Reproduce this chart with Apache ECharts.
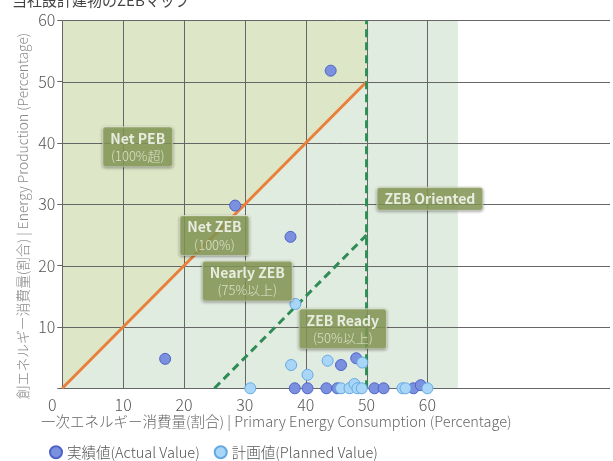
<!DOCTYPE html>
<html><head><meta charset="utf-8">
<script src="https://cdn.jsdelivr.net/npm/echarts@6/dist/echarts.min.js"></script>
<style>html,body{margin:0;padding:0;background:#fff}#c{width:613px;height:461px}</style>
</head><body><div id="c"></div>
<script>
// ---- data ----
const actualValues = [
  [16.9,4.8],[44.1,51.8],[28.4,29.8],[37.5,24.7],[45.8,3.8],[48.3,4.9],
  [38.2,0],[40.3,0],[43.4,0],[45.2,0],[51.3,0],[52.8,0],[57.7,0],[58.9,0.5]
];
const plannedValues = [
  [38.3,13.75],[37.6,3.8],[43.6,4.5],[49.3,4.2],[40.3,2.2],[30.9,0],
  [45.8,0],[47.2,0],[48.0,0.7],[48.5,0],[49.2,0],[55.9,0],[56.4,0],[60.0,0]
];
const seriesNames = ['実績値(Actual Value)','計画値(Planned Value)'];
const xTicks = [0,10,20,30,40,50,60];
const yTicks = [0,10,20,30,40,50,60];
const netZebLine = [[0,0],[50,50]];
const zebReadyLine = [[50,0],[50,60]];
const nearlyZebLine = [[25,0],[50,25]];
const zoneRegion = [[0,0],[65,0],[65,60],[0,60]];
const pebRegion = [[0,0],[50,50],[50,60],[0,60]];
const zoneLabelPos = [[12.4,39.4],[25.0,24.9],[30.4,17.5],[46.1,9.7],[60.4,30.9]];
const zoneLabelTitle = ['Net PEB','Net ZEB','Nearly ZEB','ZEB Ready','ZEB Oriented'];
const zoneLabelSub = ['(100%超)','(100%)','(75%以上)','(50%以上)',''];
const xMax = 90;
const chartTitle = '当社設計建物のZEBマップ';
const xName = '一次エネルギー消費量(割合) | Primary Energy Consumption (Percentage)';
const yName = '創エネルギー消費量(割合) | Energy Production (Percentage)';

const FONT = '"Noto Sans CJK JP","Noto Sans",sans-serif';
const chart = echarts.init(document.getElementById('c'));

const gridColor = '#666';
const option = {
  animation:false,
  textStyle:{fontFamily:FONT},
  grid:{left:62.3, top:20.4, bottom:72.7, right:-2},
  xAxis:{type:'value', min:0, max:xMax, interval:10,
    axisLine:{show:false}, axisTick:{show:false}, splitLine:{show:false},
    axisLabel:{margin:9, color:'#555', fontSize:16, fontFamily:FONT, fontWeight:300,
      formatter:v => xTicks.indexOf(v)<0 ? '' : (v===0 ? '{o|0}' : String(v)),
      rich:{o:{fontSize:16, color:'#555', fontWeight:300, padding:[0,20,0,0]}}}},
  yAxis:{type:'value', min:0, max:60, interval:10,
    axisLine:{show:false}, axisTick:{show:true, length:5, lineStyle:{color:gridColor}},
    splitLine:{show:false},
    axisLabel:{margin:7, color:'#555', fontSize:16, fontFamily:FONT, fontWeight:300,
      formatter:v => v===0 ? '' : String(v)}},
  legend:{left:44, top:440, icon:'circle', itemWidth:12, itemHeight:12, itemGap:14,
    textStyle:{fontSize:14.5, color:'#555', fontFamily:FONT, fontWeight:300}, data:seriesNames},
  graphic:[
    {type:'text', left:12, top:-7, style:{text:chartTitle, fontSize:15, fill:'#444', fontFamily:FONT}},
    {type:'text', left:41, top:414, style:{text:xName, fontSize:14.5, fill:'#666', fontFamily:FONT, fontWeight:300}},
    {type:'text', x:22.7, y:216, rotation:Math.PI/2,
      style:{text:yName, fontSize:13.8, fill:'#888', fontFamily:FONT, fontWeight:300, align:'center', verticalAlign:'middle'}}
  ],
  series:[
    {type:'custom', z:1, silent:true, data:[0],
      renderItem:(params, api) => {
        const poly = (pts, fill) => ({type:'polygon', shape:{points:pts.map(p=>api.coord(p))}, style:{fill:fill}});
        return {type:'group', children:[poly(zoneRegion,'#e1ece1'), poly(pebRegion,'#dde7c7')]};
      }},
    {type:'custom', z:2, silent:true, data:[0],
      renderItem:(params, api) => {
        const ch = [];
        yTicks.forEach(v => {
          const a = api.coord([0,v]), b = api.coord([xMax,v]);
          ch.push({type:'line', shape:{x1:a[0],y1:Math.round(a[1])+0.5,x2:b[0],y2:Math.round(b[1])+0.5}, style:{stroke:gridColor, lineWidth:1}});
        });
        xTicks.forEach(v => {
          const a = api.coord([v,0]), b = api.coord([v,60]);
          ch.push({type:'line', shape:{x1:Math.round(a[0])+0.5,y1:a[1],x2:Math.round(b[0])+0.5,y2:b[1]}, style:{stroke:gridColor, lineWidth:1}});
        });
        return {type:'group', children:ch};
      }},
    {type:'line', z:3, data:netZebLine, symbol:'none', silent:true,
      lineStyle:{color:'#e97f3a', width:3}},
    {type:'line', z:3, data:zebReadyLine, symbol:'none', silent:true,
      lineStyle:{color:'#2f8c57', width:3, type:[8,5]}},
    {type:'line', z:3, data:nearlyZebLine, symbol:'none', silent:true,
      lineStyle:{color:'#2f8c57', width:3, type:[8,5]}},
    {name:seriesNames[0], type:'scatter', z:5, data:actualValues, symbolSize:11,
      itemStyle:{color:'#7c90e0', borderColor:'#4d63c6', borderWidth:1, opacity:1}},
    {name:seriesNames[1], type:'scatter', z:6, data:plannedValues, symbolSize:11,
      itemStyle:{color:'#a9d6f7', borderColor:'#62a9e4', borderWidth:1, opacity:1}},
    {type:'scatter', z:8, silent:true, symbol:'circle', symbolSize:1, itemStyle:{color:'rgba(0,0,0,0)'},
      data:zoneLabelPos.map((p,i)=>({value:p, name:String(i)})),
      label:{show:true, position:'inside',
        formatter:p => { const i=+p.name; return zoneLabelSub[i] ? '{b|'+zoneLabelTitle[i]+'}\n{s|'+zoneLabelSub[i]+'}' : '{b|'+zoneLabelTitle[i]+'}'; },
        backgroundColor:'#8a9d58', borderColor:'#e9eed9', borderWidth:1, borderRadius:2,
        padding:[2,7], shadowBlur:3, shadowColor:'rgba(0,0,0,0.35)', shadowOffsetY:1,
        rich:{b:{fontSize:14, fontWeight:'bold', color:'#fff', lineHeight:18, fontFamily:FONT, align:'center'},
              s:{fontSize:13, color:'#eef2e2', lineHeight:17, fontFamily:FONT, fontWeight:300, align:'center'}}}}
  ]
};
chart.setOption(option);
</script></body></html>
